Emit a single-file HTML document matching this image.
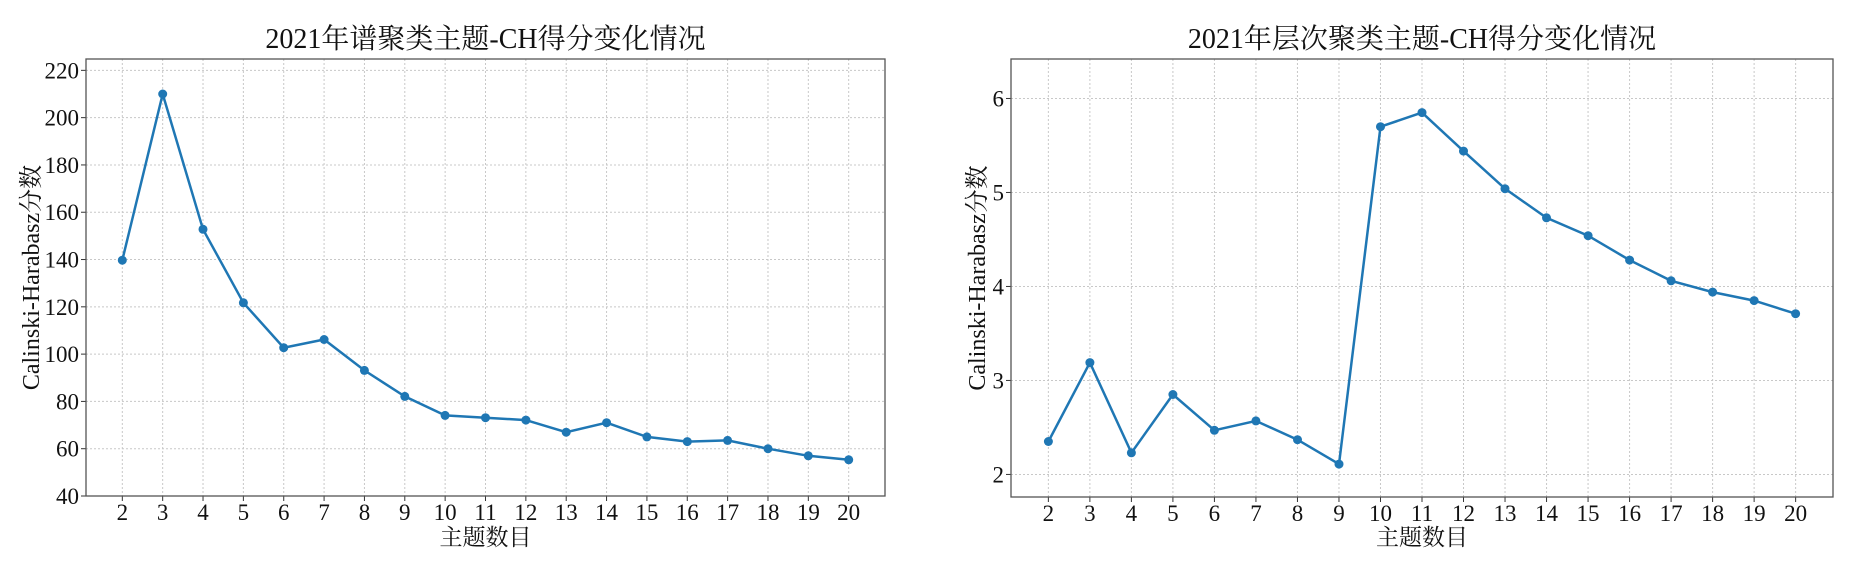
<!DOCTYPE html>
<html><head><meta charset="utf-8"><style>
html,body{margin:0;padding:0;background:#fff;}
svg{display:block;font-family:"Liberation Serif","Noto Serif CJK SC","Noto Sans CJK SC",serif;}
</style></head><body>
<svg id="s" width="1854" height="580" viewBox="0 0 1854 580" xmlns="http://www.w3.org/2000/svg"></svg>
<script>
var svg=document.getElementById('s');var out='';
function plot(o){
  var L=o.L,R=o.R,T=59,B=o.B;
  var xs=function(v){return L+(v-1.1)/19.8*(R-L);};
  var ys=function(v){return B-(v-o.ymin)/(o.ymax-o.ymin)*(B-T);};
  var g='';
  for(var i=2;i<=20;i++){var x=xs(i);
    g+='<line x1="'+x+'" y1="'+T+'" x2="'+x+'" y2="'+B+'" stroke="#c8c8c8" stroke-width="1" stroke-dasharray="2,2"/>';
    g+='<line x1="'+x+'" y1="'+B+'" x2="'+x+'" y2="'+(B+5)+'" stroke="#333" stroke-width="1"/>';
    g+='<text x="'+x+'" y="'+(B+24)+'" font-size="23" text-anchor="middle" fill="#111">'+i+'</text>';}
  o.ticks.forEach(function(t){var y=ys(t);
    g+='<line x1="'+L+'" y1="'+y+'" x2="'+R+'" y2="'+y+'" stroke="#c8c8c8" stroke-width="1" stroke-dasharray="2,2"/>';
    g+='<line x1="'+(L-5)+'" y1="'+y+'" x2="'+L+'" y2="'+y+'" stroke="#333" stroke-width="1"/>';
    g+='<text x="'+(L-7)+'" y="'+(y+8)+'" font-size="23" text-anchor="end" fill="#111">'+t+'</text>';});
  g+='<rect x="'+L+'" y="'+T+'" width="'+(R-L)+'" height="'+(B-T)+'" fill="none" stroke="#555" stroke-width="1.3"/>';
  var pts=o.d.map(function(v,i){return xs(i+2).toFixed(1)+','+ys(v).toFixed(1);});
  g+='<polyline points="'+pts.join(' ')+'" fill="none" stroke="#1f77b4" stroke-width="2.5"/>';
  pts.forEach(function(p){var a=p.split(',');g+='<circle cx="'+a[0]+'" cy="'+a[1]+'" r="4.5" fill="#1f77b4"/>';});
  var cx=(L+R)/2;
  g+='<text x="'+cx+'" y="48" font-size="28" text-anchor="middle" fill="#111">'+o.title+'</text>';
  g+='<text x="'+cx+'" y="545" font-size="23" text-anchor="middle" fill="#111">主题数目</text>';
  var ly=(T+B)/2;
  g+='<text x="'+o.yl+'" y="'+ly+'" font-size="24" text-anchor="middle" fill="#111" transform="rotate(-90 '+o.yl+' '+ly+')" dy="8">Calinski-Harabasz分数</text>';
  return g;
}
out+=plot({L:86,R:885,B:496,ymin:40,ymax:224.8,ticks:[40,60,80,100,120,140,160,180,200,220],
 d:[139.7,210,152.8,121.7,102.7,106.2,93.1,82.1,74.1,73.1,72.1,67,71,65,63,63.5,60,57,55.3],
 title:'2021年谱聚类主题-CH得分变化情况',yl:31});
out+=plot({L:1011,R:1833,B:497,ymin:1.76,ymax:6.42,ticks:[2,3,4,5,6],
 d:[2.35,3.19,2.23,2.85,2.47,2.57,2.37,2.11,5.70,5.85,5.44,5.04,4.73,4.54,4.28,4.06,3.94,3.85,3.71],
 title:'2021年层次聚类主题-CH得分变化情况',yl:977});
svg.innerHTML=out;
</script>
</body></html>
